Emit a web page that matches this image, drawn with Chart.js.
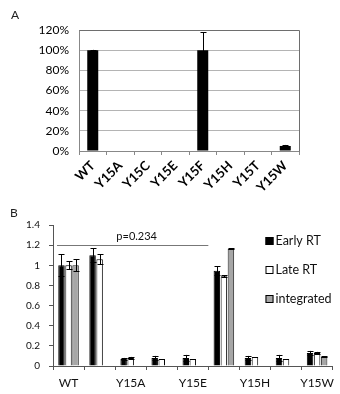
<!DOCTYPE html>
<html>
<head>
<meta charset="utf-8">
<script src="https://cdn.jsdelivr.net/npm/chart.js@4"></script>
<style>
  body { margin: 0; background: #fff; }
  .panel { position: relative; width: 340px; }
  .tag { position: absolute; font: 12px Lato, sans-serif; color: #222; }
</style>
</head>
<body>
<div class="panel" style="height:200px">
  <span class="tag" style="left:11px;top:7px">A</span>
  <canvas id="chartA" width="340" height="200"></canvas>
</div>
<div class="panel" style="height:194px">
  <span class="tag" style="left:10px;top:5px">B</span>
  <canvas id="chartB" width="340" height="194"></canvas>
</div>
<script>
// panel A
const categoriesA = ['WT', 'Y15A', 'Y15C', 'Y15E', 'Y15F', 'Y15H', 'Y15T', 'Y15W'];
const valuesA = [100, 0.5, 0, 0, 100, 0, 0.5, 5];
const errorsA = [0.3, 0, 0, 0, 18, 0, 0, 1];
const ticksA = [0, 20, 40, 60, 80, 100, 120];

// panel B
const categoriesB = ['WT', '', 'Y15A', '', 'Y15E', '', 'Y15H', '', 'Y15W'];
const earlyRT = [1.0, 1.10, 0.07, 0.08, 0.08, 0.945, 0.08, 0.08, 0.13];
const earlyErr = [0.11, 0.07, 0.01, 0.02, 0.03, 0.045, 0.02, 0.03, 0.02];
const lateRT = [1.0, 1.06, 0.08, 0.07, 0.07, 0.89, 0.09, 0.07, 0.13];
const lateErr = [0.04, 0.05, 0.01, 0, 0, 0.01, 0, 0, 0.01];
const integrated = [1.0, 0.005, 0, 0.005, 0, 1.165, 0.005, 0, 0.09];
const intErr = [0.06, 0, 0, 0, 0, 0.005, 0, 0, 0.005];
const ticksB = [0, 0.2, 0.4, 0.6, 0.8, 1, 1.2, 1.4];
const pValue = { label: 'p=0.234', y: 1.2, from: 0, to: 5 };

const FONT = 'Lato, "Open Sans", sans-serif';

const errorBars = {
  id: 'errorBars',
  afterDatasetsDraw(chart) {
    const { ctx, scales: { y } } = chart;
    ctx.save();
    ctx.strokeStyle = '#000';
    ctx.lineWidth = 1;
    chart.data.datasets.forEach((ds, i) => {
      if (!ds.errors) return;
      chart.getDatasetMeta(i).data.forEach((bar, j) => {
        const e = ds.errors[j];
        if (!e) return;
        const v = ds.data[j];
        const top = y.getPixelForValue(v + e);
        const bot = y.getPixelForValue(Math.max(0, v - e));
        const x = Math.round(bar.x) + 0.5;
        const cap = ds.cap || 3;
        ctx.beginPath();
        ctx.moveTo(x, top); ctx.lineTo(x, bot);
        ctx.moveTo(x - cap, Math.round(top) + 0.5); ctx.lineTo(x + cap, Math.round(top) + 0.5);
        if (ds.lowerCap) {
          ctx.moveTo(x - cap, Math.round(bot) + 0.5); ctx.lineTo(x + cap, Math.round(bot) + 0.5);
        }
        ctx.stroke();
      });
    });
    ctx.restore();
  }
};

const frame = {
  id: 'frame',
  afterDraw(chart) {
    const { ctx, chartArea: a } = chart;
    ctx.save();
    ctx.strokeStyle = '#6e6e6e';
    ctx.lineWidth = 1;
    ctx.beginPath();
    ctx.moveTo(Math.round(a.left) + 0.5, Math.round(a.top) + 0.5);
    ctx.lineTo(Math.round(a.right) + 0.5, Math.round(a.top) + 0.5);
    ctx.lineTo(Math.round(a.right) + 0.5, Math.round(a.bottom) + 0.5);
    ctx.stroke();
    ctx.restore();
  }
};

new Chart(document.getElementById('chartA'), {
  type: 'bar',
  data: {
    labels: categoriesA,
    datasets: [{
      data: valuesA,
      errors: errorsA,
      cap: 3,
      backgroundColor: '#000',
      barPercentage: 0.4,
      categoryPercentage: 1
    }]
  },
  options: {
    responsive: false,
    animation: false,
    layout: { padding: { top: 30, right: 41, left: 0, bottom: 0 } },
    plugins: { legend: { display: false }, tooltip: { enabled: false } },
    scales: {
      x: {
        grid: { drawOnChartArea: false, tickLength: 4, color: '#888' },
        border: { color: '#888' },
        ticks: {
          minRotation: 45, maxRotation: 45, autoSkip: false, padding: 3,
          color: '#000', font: { family: FONT, size: 13, weight: 'bold' }
        },
        afterFit(s) { s.height = 49; }
      },
      y: {
        min: 0, max: 120,
        afterBuildTicks(s) { s.ticks = ticksA.map(v => ({ value: v })); },
        grid: { color: '#b4b4b4', tickLength: 0 },
        border: { color: '#888' },
        ticks: {
          padding: 10, color: '#000',
          font: { family: FONT, size: 12 },
          callback: v => v + '%'
        },
        afterFit(s) { s.width = 79; }
      }
    }
  },
  plugins: [errorBars, frame]
});

const pLine = {
  id: 'pLine',
  afterDraw(chart) {
    const { ctx, scales: { x, y } } = chart;
    const half = (x.getPixelForValue(1) - x.getPixelForValue(0)) / 2;
    const x0 = x.getPixelForValue(pValue.from) - half + 4;
    const x1 = x.getPixelForValue(pValue.to) - half;
    const py = Math.round(y.getPixelForValue(pValue.y)) + 0.5;
    ctx.save();
    ctx.strokeStyle = '#777';
    ctx.lineWidth = 1;
    ctx.beginPath();
    ctx.moveTo(x0, py); ctx.lineTo(x1, py);
    ctx.stroke();
    ctx.fillStyle = '#111';
    ctx.font = '11px ' + FONT;
    ctx.textAlign = 'center';
    ctx.textBaseline = 'bottom';
    ctx.fillText(pValue.label, (x0 + x1) / 2 + 4, py - 4);
    ctx.restore();
  }
};

const boxLegend = {
  id: 'boxLegend',
  afterDraw(chart) {
    const { ctx, chartArea: a } = chart;
    ctx.save();
    ctx.font = '12.5px ' + FONT;
    ctx.textBaseline = 'middle';
    chart.data.datasets.forEach((ds, i) => {
      const bx = Math.round(a.right) - 67.5;
      const by = Math.round(a.top) + 16 + i * 29;
      ctx.fillStyle = ds.backgroundColor;
      ctx.fillRect(bx, by - 4, 8, 8);
      ctx.strokeStyle = '#000';
      ctx.lineWidth = 1;
      ctx.strokeRect(bx + 0.5, by - 3.5, 7, 7);
      ctx.fillStyle = '#111';
      ctx.fillText(ds.label, bx + 10, by);
    });
    ctx.restore();
  }
};

new Chart(document.getElementById('chartB'), {
  type: 'bar',
  data: {
    labels: categoriesB,
    datasets: [
      { label: 'Early RT', data: earlyRT, errors: earlyErr, lowerCap: true, cap: 3,
        backgroundColor: '#000', borderColor: '#000', borderWidth: 1 },
      { label: 'Late RT', data: lateRT, errors: lateErr, lowerCap: true, cap: 3,
        backgroundColor: '#fff', borderColor: '#000', borderWidth: 1 },
      { label: 'integrated', data: integrated, errors: intErr, lowerCap: true, cap: 3,
        backgroundColor: '#a6a6a6', borderColor: '#222', borderWidth: 1 }
    ]
  },
  options: {
    responsive: false,
    animation: false,
    datasets: { bar: { barPercentage: 0.92, categoryPercentage: 0.68 } },
    layout: { padding: { top: 25, right: 0, left: 0, bottom: 0 } },
    plugins: { legend: { display: false }, tooltip: { enabled: false } },
    scales: {
      x: {
        grid: { drawOnChartArea: false, tickLength: 4, color: '#555' },
        border: { color: '#555' },
        ticks: {
          autoSkip: false, maxRotation: 0, padding: 6, color: '#111',
          font: { family: FONT, size: 12 }
        },
        afterFit(s) { s.height = 28; }
      },
      y: {
        min: 0, max: 1.4,
        afterBuildTicks(s) { s.ticks = ticksB.map(v => ({ value: v })); },
        grid: { drawOnChartArea: false, tickLength: 4, color: '#555' },
        border: { color: '#555' },
        ticks: {
          padding: 9, color: '#111',
          font: { family: FONT, size: 10 },
          callback: v => String(Math.round(v * 10) / 10)
        },
        afterFit(s) { s.width = 53; }
      }
    }
  },
  plugins: [errorBars, pLine, boxLegend]
});
</script>
</body>
</html>
